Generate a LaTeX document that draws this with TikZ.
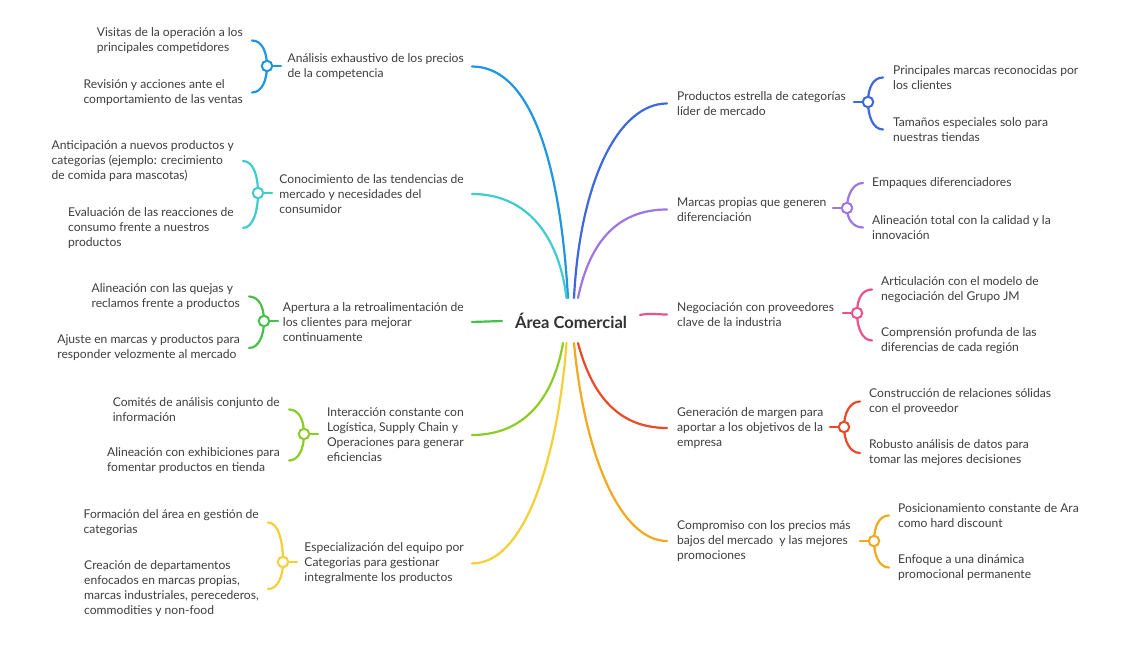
\documentclass[tikz,border=0pt]{standalone}
\usepackage{fontspec}
\setmainfont{Lato}
\definecolor{txtgray}{HTML}{3E3E3E}
\definecolor{cA}{HTML}{1E96E2}
\definecolor{cB}{HTML}{40CBD0}
\definecolor{cC}{HTML}{46C04A}
\definecolor{cD}{HTML}{8CCC26}
\definecolor{cE}{HTML}{F5CF38}
\definecolor{cF}{HTML}{3D68DE}
\definecolor{cG}{HTML}{9E76E2}
\definecolor{cH}{HTML}{E8528E}
\definecolor{cI}{HTML}{EA4A2A}
\definecolor{cJ}{HTML}{F1A91E}
\tikzset{
  txt/.style={font=\fontsize{12.1}{15}\selectfont, text=txtgray, align=left, inner sep=0pt, yshift=-1pt},
  ctr/.style={font=\fontsize{16.5}{20}\selectfont\bfseries, text=black!80, inner sep=0pt},
  cn/.style={draw=#1, line width=2.2pt, line cap=round},
  br/.style={draw=#1, line width=2.2pt, line cap=round},
  jn/.style={circle, draw=#1, line width=2pt, fill=white, minimum size=10.5pt, inner sep=0pt}
}
\begin{document}
\begin{tikzpicture}[x=1pt,y=-1pt]
\useasboundingbox[fill=white] (0,0) rectangle (1130,668);
% centre
\node[ctr] (c) at (571,321) {Área Comercial};
% left parents
\node[txt, anchor=east] (p1) at (464,65.5) {Análisis exhaustivo de los precios\\de la competencia};
\node[txt, anchor=east] (p2) at (464,193) {Conocimiento de las tendencias de\\mercado y necesidades del\\consumidor};
\node[txt, anchor=east] (p3) at (464,321) {Apertura a la retroalimentación de\\los clientes para mejorar\\continuamente};
\node[txt, anchor=east] (p4) at (464,434) {Interacción constante con\\Logística, Supply Chain y\\Operaciones para generar\\eficiencias};
\node[txt, anchor=east] (p5) at (464,562.5) {Especialización del equipo por\\Categorias para gestionar\\integralmente los productos};
% right parents
\node[txt, anchor=west] (q1) at (677,102.5) {Productos estrella de categorías\\líder de mercado};
\node[txt, anchor=west] (q2) at (677,208.5) {Marcas propias que generen\\diferenciación};
\node[txt, anchor=west] (q3) at (677,313.5) {Negociación con proveedores\\clave de la industria};
\node[txt, anchor=west] (q4) at (677,427) {Generación de margen para\\aportar a los objetivos de la\\empresa};
\node[txt, anchor=west] (q5) at (677,540) {Compromiso con los precios más\\bajos del mercado \ y las mejores\\promociones};
% left children
\node[txt, anchor=east] (c11) at (243,39.5) {Visitas de la operación a los\\principales competidores};
\node[txt, anchor=east] (c12) at (243,91.5) {Revisión y acciones ante el\\comportamiento de las ventas};
\node[txt, anchor=east] (c21) at (234,160) {Anticipación a nuevos productos y\\categorias (ejemplo: crecimiento\\de comida para mascotas)};
\node[txt, anchor=east] (c22) at (234,227) {Evaluación de las reacciones de\\consumo frente a nuestros\\productos};
\node[txt, anchor=east] (c31) at (240,295.5) {Alineación con las quejas y\\reclamos frente a productos};
\node[txt, anchor=east] (c32) at (240,347) {Ajuste en marcas y productos para\\responder velozmente al mercado};
\node[txt, anchor=east] (c41) at (280,408.5) {Comités de análisis conjunto de\\información};
\node[txt, anchor=east] (c42) at (280,459.5) {Alineación con exhibiciones para\\fomentar productos en tienda};
\node[txt, anchor=east] (c51) at (259,521.5) {Formación del área en gestión de\\categorias};
\node[txt, anchor=east] (c52) at (259,588) {Creación de departamentos\\enfocados en marcas propias,\\marcas industriales, perecederos,\\commodities y non-food};
% right children
\node[txt, anchor=west] (d11) at (893,76.5) {Principales marcas reconocidas por\\los clientes};
\node[txt, anchor=west] (d12) at (893,128.5) {Tamaños especiales solo para\\nuestras tiendas};
\node[txt, anchor=west] (d21) at (872,182) {Empaques diferenciadores};
\node[txt, anchor=west] (d22) at (872,226.5) {Alineación total con la calidad y la\\innovación};
\node[txt, anchor=west] (d31) at (881,288.5) {Articulación con el modelo de\\negociación del Grupo JM};
\node[txt, anchor=west] (d32) at (881,339.5) {Comprensión profunda de las\\diferencias de cada región};
\node[txt, anchor=west] (d41) at (869,400.5) {Construcción de relaciones sólidas\\con el proveedor};
\node[txt, anchor=west] (d42) at (869,452) {Robusto análisis de datos para\\tomar las mejores decisiones};
\node[txt, anchor=west] (d51) at (898,514.5) {Posicionamiento constante de Ara\\como hard discount};
\node[txt, anchor=west] (d52) at (898,566.5) {Enfoque a una dinámica\\promocional permanente};
% centre ends
\coordinate (e1) at (568,298);
\coordinate (e2) at (566.5,298);
\coordinate (e3) at (502,321);
\coordinate (e4) at (563,343);
\coordinate (e5) at (566.5,343);
\coordinate (e6) at (574,298);
\coordinate (e7) at (578,298);
\coordinate (e8) at (640,315);
\coordinate (e9) at (578,343);
\coordinate (e10) at (574,343);
% main connectors
\draw[cn=cA] ([xshift=8pt]p1.east) .. controls +(58,0) and +(-8,-138) .. (e1);
\draw[cn=cB] ([xshift=8pt]p2.east) .. controls +(58,0) and +(-7,-58) .. (e2);
\draw[cn=cC] ([xshift=8pt]p3.east) -- (e3);
\draw[cn=cD] ([xshift=8pt]p4.east) .. controls +(58,0) and +(-8,47) .. (e4);
\draw[cn=cE] ([xshift=8pt]p5.east) .. controls +(58,0) and +(-7,97) .. (e5);
\draw[cn=cF] ([xshift=-10pt]q1.west) .. controls +(-48,0) and +(6,-118) .. (e6);
\draw[cn=cG] ([xshift=-10pt]q2.west) .. controls +(-48,0) and +(12,-58) .. (e7);
\draw[cn=cH] ([xshift=-10pt]q3.west) .. controls +(-10,0) and +(10,-2) .. (e8);
\draw[cn=cI] ([xshift=-10pt]q4.west) .. controls +(-45,0) and +(15,57) .. (e9);
\draw[cn=cJ] ([xshift=-10pt]q5.west) .. controls +(-45,0) and +(11,117) .. (e10);
% junctions
\coordinate (j1) at (267,66);
\coordinate (j2) at (258,193);
\coordinate (j3) at (264,321);
\coordinate (j4) at (304,434);
\coordinate (j5) at (283,562);
\coordinate (k1) at (868,102);
\coordinate (k2) at (847,208);
\coordinate (k3) at (857,313);
\coordinate (k4) at (844,427);
\coordinate (k5) at (874,541);
% left braces
\draw[br=cA] ([xshift=9pt]c11.east) .. controls +(10,0) and +(0,-14) .. (j1) .. controls +(0,14) and +(10,0) .. ([xshift=9pt]c12.east);
\draw[br=cB] ([xshift=9pt]c21.east) .. controls +(10,0) and +(0,-18) .. (j2) .. controls +(0,18) and +(10,0) .. ([xshift=9pt]c22.east);
\draw[br=cC] ([xshift=9pt]c31.east) .. controls +(10,0) and +(0,-14) .. (j3) .. controls +(0,14) and +(10,0) .. ([xshift=9pt]c32.east);
\draw[br=cD] ([xshift=9pt]c41.east) .. controls +(10,0) and +(0,-14) .. (j4) .. controls +(0,14) and +(10,0) .. ([xshift=9pt]c42.east);
\draw[br=cE] ([xshift=9pt]c51.east) .. controls +(10,0) and +(0,-22) .. (j5) .. controls +(0,14) and +(10,0) .. ([xshift=9pt]c52.east);
\draw[br=cA] (j1) -- +(14,0);
\draw[br=cB] (j2) -- +(14,0);
\draw[br=cC] (j3) -- +(14,0);
\draw[br=cD] (j4) -- +(14,0);
\draw[br=cE] (j5) -- +(14,0);
% right braces
\draw[br=cF] ([xshift=-10pt]d11.west) .. controls +(-10,0) and +(0,-14) .. (k1) .. controls +(0,14) and +(-10,0) .. ([xshift=-10pt]d12.west);
\draw[br=cG] ([xshift=-9pt]d21.west) .. controls +(-10,0) and +(0,-13) .. (k2) .. controls +(0,11) and +(-10,0) .. ([xshift=-9pt]d22.west);
\draw[br=cH] ([xshift=-9pt]d31.west) .. controls +(-10,0) and +(0,-14) .. (k3) .. controls +(0,14) and +(-10,0) .. ([xshift=-9pt]d32.west);
\draw[br=cI] ([xshift=-9pt]d41.west) .. controls +(-10,0) and +(0,-14) .. (k4) .. controls +(0,14) and +(-10,0) .. ([xshift=-9pt]d42.west);
\draw[br=cJ] ([xshift=-9pt]d51.west) .. controls +(-10,0) and +(0,-14) .. (k5) .. controls +(0,14) and +(-10,0) .. ([xshift=-9pt]d52.west);
\draw[br=cF] (k1) -- +(-14,0);
\draw[br=cG] (k2) -- +(-14,0);
\draw[br=cH] (k3) -- +(-14,0);
\draw[br=cI] (k4) -- +(-14,0);
\draw[br=cJ] (k5) -- +(-14,0);
% junction circles
\node[jn=cA] (o1) at (j1) {};
\node[jn=cB] (o2) at (j2) {};
\node[jn=cC] (o3) at (j3) {};
\node[jn=cD] (o4) at (j4) {};
\node[jn=cE] (o5) at (j5) {};
\node[jn=cF] (o6) at (k1) {};
\node[jn=cG] (o7) at (k2) {};
\node[jn=cH] (o8) at (k3) {};
\node[jn=cI] (o9) at (k4) {};
\node[jn=cJ] (o10) at (k5) {};
\end{tikzpicture}
\end{document}
